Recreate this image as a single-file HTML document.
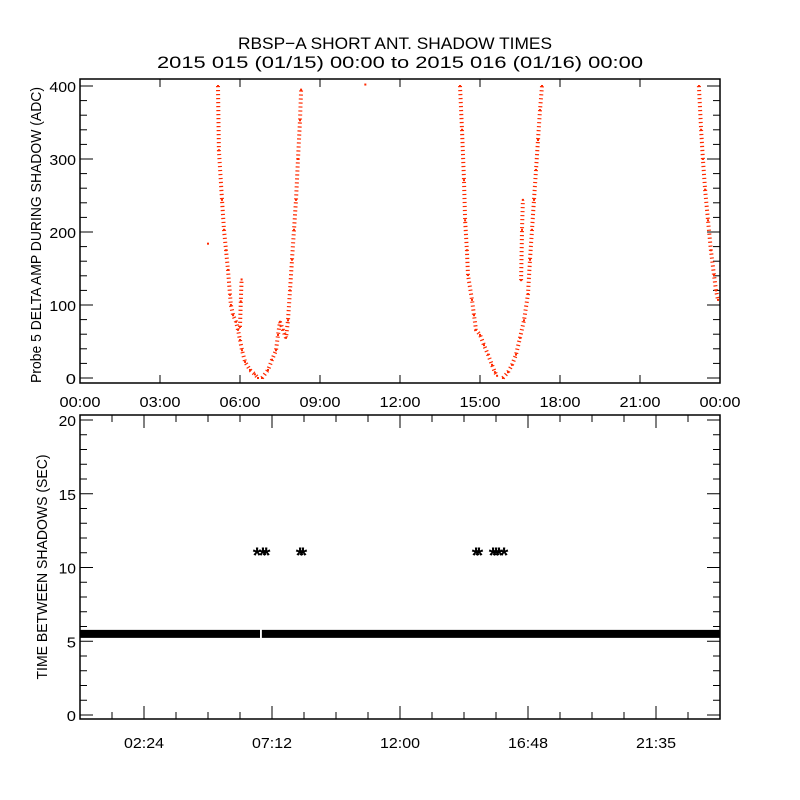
<!DOCTYPE html>
<html><head><meta charset="utf-8"><style>
body{margin:0;background:#fff}
svg{display:block;font-family:"Liberation Sans",sans-serif}
</style></head><body>
<svg id="chart" width="800" height="800" viewBox="0 0 800 800" xmlns="http://www.w3.org/2000/svg">
<rect width="800" height="800" fill="#fff"/>
<text x="395" y="49" font-size="17" text-anchor="middle" textLength="314" lengthAdjust="spacingAndGlyphs">RBSP−A SHORT ANT. SHADOW TIMES</text>
<text x="400" y="68" font-size="17" text-anchor="middle" textLength="486" lengthAdjust="spacingAndGlyphs">2015 015 (01/15) 00:00 to 2015 016 (01/16) 00:00</text>
<g id="topPanel"></g>
<g id="botPanel"></g>
</svg>
<script>
// ---- top panel data (hour, ADC value) ----
const branch1Hours = [5.175,5.21,5.325,5.4,5.475,5.55,5.625,5.66,5.74,5.85,5.925,6.0,6.075,6.19,6.375,6.56,6.675];
const branch1Vals  = [400,312,244,203,175,148,114,100,86,77,66,52,38,22,11,5,0];
const branch2Hours = [6.825,7.05,7.2,7.35,7.425,7.5,7.61,7.725,7.8,7.875,7.95,8.025,8.1,8.175,8.25,8.29];
const branch2Vals  = [0,11,25,38,59,77,66,55,79,120,162,203,244,300,353,395];
const branch3Hours = [14.25,14.325,14.4,14.44,14.51,14.55,14.7,14.775,14.85,15.0,15.15,15.3,15.45,15.56,15.64];
const branch3Vals  = [400,340,271,216,175,141,107,86,66,59,45,32,18,8,3];
const branch4Hours = [15.86,16.05,16.2,16.35,16.5,16.65,16.8,16.875,16.95,17.025,17.1,17.175,17.25,17.325];
const branch4Vals  = [0,8,18,32,55,79,115,162,203,244,285,326,367,400];
const branch5Hours = [16.54,16.575,16.61];
const branch5Vals  = [134,203,244];
const branch6Hours = [23.21,23.29,23.36,23.44,23.55,23.66,23.775,23.85,23.925];
const branch6Vals  = [400,340,300,258,216,175,141,120,107];
const branch7Hours = [6.0,6.03,6.06];
const branch7Vals  = [70,105,135];
const strayHours = [4.8,10.7];
const strayVals  = [184,402];
const topXTicks = ["00:00","03:00","06:00","09:00","12:00","15:00","18:00","21:00","00:00"];
const topYTicks = [0,100,200,300,400];
// ---- bottom panel data ----
const bandStart = [0,6.82];
const bandEnd   = [6.75,24];
const bandVal   = 5.5;
const gapHours  = [11,11,11,11,11,11,11,11,11,11,11];
const starHours = [6.64,6.86,6.98,8.25,8.36,14.85,14.96,15.49,15.6,15.71,15.9];
const botXTicks = ["02:24","07:12","12:00","16:48","21:35"];
const botYTicks = [0,5,10,15,20];

const NS="http://www.w3.org/2000/svg";
function mk(tag,attrs,parent){const e=document.createElementNS(NS,tag);for(const k in attrs)e.setAttribute(k,attrs[k]);parent.appendChild(e);return e;}
const topG=document.getElementById('topPanel'), botG=document.getElementById('botPanel');
const X0=80,X1=720;
const xs=h=>X0+(h/24)*(X1-X0);
const lab=(s)=>String(s).length*8.2;
// top axes
const T0=79,T1=383, yT=v=>378-(v)*0.73;
let r=mk('rect',{x:X0,y:T0,width:X1-X0,height:T1-T0,fill:'none',stroke:'#000','stroke-width':1.5},topG);


topXTicks.forEach((t,i)=>{const x=X0+i*80;
 mk('line',{x1:x,y1:T1,x2:x,y2:T1-8,stroke:'#000'},topG);
 mk('line',{x1:x,y1:T0,x2:x,y2:T0+8,stroke:'#000'},topG);
 const tx=mk('text',{x:x,y:407,'font-size':15,'text-anchor':'middle',textLength:lab(t),lengthAdjust:'spacingAndGlyphs'},topG);tx.textContent=t;
 
 });
for(let v=0;v<=400;v+=20){const y=yT(v),L=(v%100===0)?13:7;
 mk('line',{x1:X0,y1:y,x2:X0+L,y2:y,stroke:'#000'},topG);
 mk('line',{x1:X1,y1:y,x2:X1-L,y2:y,stroke:'#000'},topG);}
topYTicks.forEach(v=>{const tx=mk('text',{x:76,y:yT(v)+6,'font-size':15,'text-anchor':'end',textLength:lab(v)+2,lengthAdjust:'spacingAndGlyphs'},topG);tx.textContent=v;
 
 });
let yt=mk('text',{x:0,y:0,'font-size':15,'text-anchor':'middle',textLength:296,lengthAdjust:'spacingAndGlyphs',transform:'translate(41,235) rotate(-90)'},topG);
yt.textContent='Probe 5 DELTA AMP DURING SHADOW (ADC)';


const branches=[[branch1Hours,branch1Vals],[branch2Hours,branch2Vals],[branch3Hours,branch3Vals],[branch4Hours,branch4Vals],[branch5Hours,branch5Vals],[branch6Hours,branch6Vals],[branch7Hours,branch7Vals]];
branches.forEach((b)=>{
 const pts=b[0].map((h,i)=>xs(h).toFixed(1)+','+yT(b[1][i]).toFixed(1)).join(' ');
 const pl=mk('polyline',{points:pts,fill:'none',stroke:'#ff2a00','stroke-width':4,'stroke-dasharray':'1.2 2.8'},topG);
 
 
 b[0].forEach((h,i)=>{const d=mk('rect',{x:xs(h)-1,y:yT(b[1][i])-1,width:2,height:2,fill:'#ff2a00'},topG);
  
  });
});
strayHours.forEach((h,i)=>{const d=mk('rect',{x:xs(h)-1,y:yT(strayVals[i])-1,width:2,height:2,fill:'#ff2a00'},topG);
 
 });
// bottom axes
const B0=415,B1=719, yB=v=>715-v*14.75;
r=mk('rect',{x:X0,y:B0,width:X1-X0,height:B1-B0,fill:'none',stroke:'#000','stroke-width':1.5},botG);


for(let i=0;i<=20;i++){const x=X0+i*32,L=(i%4===2)?13:7;
 mk('line',{x1:x,y1:B1,x2:x,y2:B1-L,stroke:'#000'},botG);
 mk('line',{x1:x,y1:B0,x2:x,y2:B0+L,stroke:'#000'},botG);}
botXTicks.forEach((t,i)=>{const tx=mk('text',{x:144+i*128,y:748,'font-size':15,'text-anchor':'middle',textLength:lab(t)-1,lengthAdjust:'spacingAndGlyphs'},botG);tx.textContent=t;
 
 });
for(let v=0;v<=20;v++){const y=yB(v),L=(v%5===0)?13:7;
 mk('line',{x1:X0,y1:y,x2:X0+L,y2:y,stroke:'#000'},botG);
 mk('line',{x1:X1,y1:y,x2:X1-L,y2:y,stroke:'#000'},botG);}
botYTicks.forEach(v=>{const tx=mk('text',{x:76,y:yB(v)+6,'font-size':15,'text-anchor':'end',textLength:lab(v)+1,lengthAdjust:'spacingAndGlyphs'},botG);tx.textContent=v;
 
 });
yt=mk('text',{x:0,y:0,'font-size':15,'text-anchor':'middle',textLength:225,lengthAdjust:'spacingAndGlyphs',transform:'translate(47,567) rotate(-90)'},botG);
yt.textContent='TIME BETWEEN SHADOWS (SEC)';


bandStart.forEach((s,i)=>{const b=mk('rect',{x:xs(s),y:yB(bandVal)-4,width:xs(bandEnd[i])-xs(s),height:8,fill:'#000'},botG);
 
 });
starHours.forEach((h,i)=>{const t=mk('text',{x:xs(h),y:yB(gapHours[i])+10,'font-size':22,'font-weight':'bold','text-anchor':'middle'},botG);t.textContent='*';
 
 });
</script>
</body></html>
